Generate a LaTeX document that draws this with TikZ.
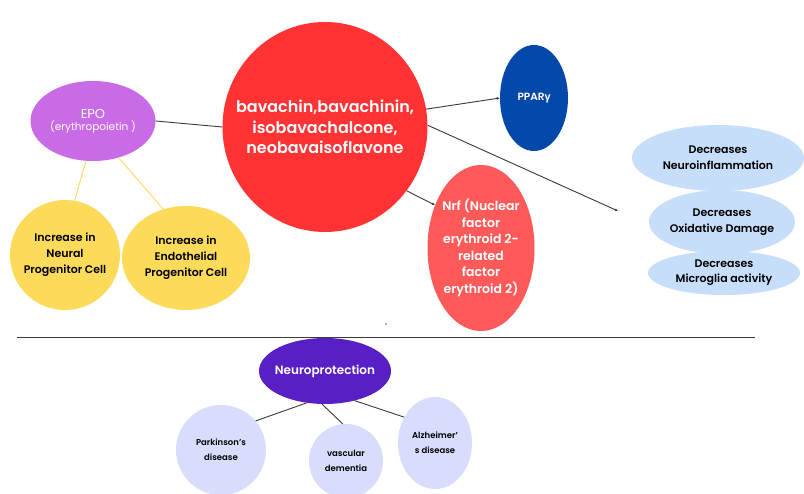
\documentclass[tikz,border=0pt]{standalone}
\usepackage{fontspec}
\setmainfont{Poppins}[BoldFont={Poppins SemiBold}]
\newfontfamily\grfont{Open Sans}
\usetikzlibrary{arrows.meta,shapes.geometric}
\definecolor{cred}{HTML}{FF3333}
\definecolor{cepo}{HTML}{C96AE6}
\definecolor{cyel}{HTML}{FCDA5A}
\definecolor{cppar}{HTML}{0449AA}
\definecolor{cnrf}{HTML}{FF5A5A}
\definecolor{cblue}{HTML}{C6DEFA}
\definecolor{cneuro}{HTML}{5820C4}
\definecolor{clav}{HTML}{D9DCFA}
\definecolor{cline}{HTML}{3A3A3A}
\tikzset{
  blob/.style args={#1/#2/#3}{ellipse, inner sep=0pt, fill=#1, minimum width=#2, minimum height=#3},
  conn/.style={draw=cline, line width=0.9pt},
  yconn/.style={draw=cyel, line width=0.9pt},
  tip/.style={-{Latex[length=3pt,width=3pt]}},
  wtxt/.style={text=white, align=center, inner sep=0pt},
  btxt/.style={text=black, align=center, inner sep=0pt},
}
\begin{document}
\begin{tikzpicture}[x=1pt,y=-1pt]
\useasboundingbox (0,0) rectangle (804,494);
\fill[white] (0,0) rectangle (804,494);
% central
\node[blob=cred/205/210] (c) at (325,127) {};
\node[wtxt, font=\fontsize{16}{20.5}\selectfont\bfseries] (ct) at (c) {bavachin,bavachinin,\\isobavachalcone,\\neobavaisoflavone};
% EPO
\node[blob=cepo/125/80] (epo) at (93,121) {};
\node[wtxt] (epot) at (epo) {{\fontsize{13}{15}\selectfont EPO}\\[0pt]{\fontsize{10.5}{13}\selectfont (erythropoietin )}};
\node[blob=cyel/110/110] (y1) at (65,255) {};
\node[btxt, font=\fontsize{11}{16}\selectfont\bfseries] (y1t) at (y1) {Increase in\\Neural\\Progenitor Cell};
\node[blob=cyel/128/104] (y2) at (186,258) {};
\node[btxt, font=\fontsize{11}{16}\selectfont\bfseries] (y2t) at (y2) {Increase in\\Endothelial\\Progenitor Cell};
% PPAR
\node[blob=cppar/68/106] (ppar) at (534,98) {};
\node[wtxt, font=\fontsize{10.5}{12}\selectfont\bfseries] (ppart) at (ppar) {PPAR{\grfont\bfseries γ}};
% Nrf
\node[blob=cnrf/107/166] (nrf) at (481,248) {};
\node[wtxt, font=\fontsize{12.5}{16.5}\selectfont\bfseries] (nrft) at (nrf) {Nrf (Nuclear\\factor\\erythroid 2-\\related\\factor\\erythroid 2)};
% blue
\node[blob=cblue/172/66] (b1) at (718,158) {};
\node[btxt, font=\fontsize{11}{16}\selectfont\bfseries] (b1t) at (b1) {Decreases\\Neuroinflammation};
\node[blob=cblue/146/64] (b2) at (722,222) {};
\node[btxt, font=\fontsize{11}{16}\selectfont\bfseries] (b2t) at (b2) {Decreases\\Oxidative Damage};
\node[blob=cblue/152/44] (b3) at (724,273) {};
\node[btxt, font=\fontsize{11}{15}\selectfont\bfseries] (b3t) at (b3) {Decreases\\Microglia activity};
\coordinate (bend) at (618,211);
% separator
\coordinate (s1) at (17,338);
\coordinate (s2) at (755,338);
\draw[cline, line width=1pt] (s1) -- (s2);
\fill[cred!70] (386,324) circle (1.2);
% bottom
\node[blob=cneuro/132/66] (np) at (325,371) {};
\node[wtxt, font=\fontsize{12}{14}\selectfont\bfseries] (npt) at (np) {Neuroprotection};
\node[blob=clav/90/90] (pk) at (221,450) {};
\node[btxt, font=\fontsize{8.5}{15}\selectfont\bfseries] (pkt) at (pk) {Parkinson's\\disease};
\node[blob=clav/74/74] (vd) at (346,461) {};
\node[btxt, font=\fontsize{8.5}{15}\selectfont\bfseries] (vdt) at (vd) {vascular\\dementia};
\node[blob=clav/74/92] (az) at (435,443) {};
\node[btxt, font=\fontsize{8.5}{15}\selectfont\bfseries] (azt) at (az) {Alzheimer'\\s disease};
% connectors
\draw[conn] (epo.east) -- (c.west);
\draw[yconn] (epo.-100) -- (y1.80);
\draw[yconn] (epo.-55) -- (y2.115);
\draw[conn, tip] (c.10) -- (ppar.west);
\draw[conn, tip] (c.1) -- (bend);
\draw[conn, tip] (c.-38) -- (nrf.137);
\draw[conn] (np.-120) -- (pk.40);
\draw[conn] (np.-95) -- (vd.95);
\draw[conn] (np.-45) -- (az.140);
\end{tikzpicture}
\end{document}
